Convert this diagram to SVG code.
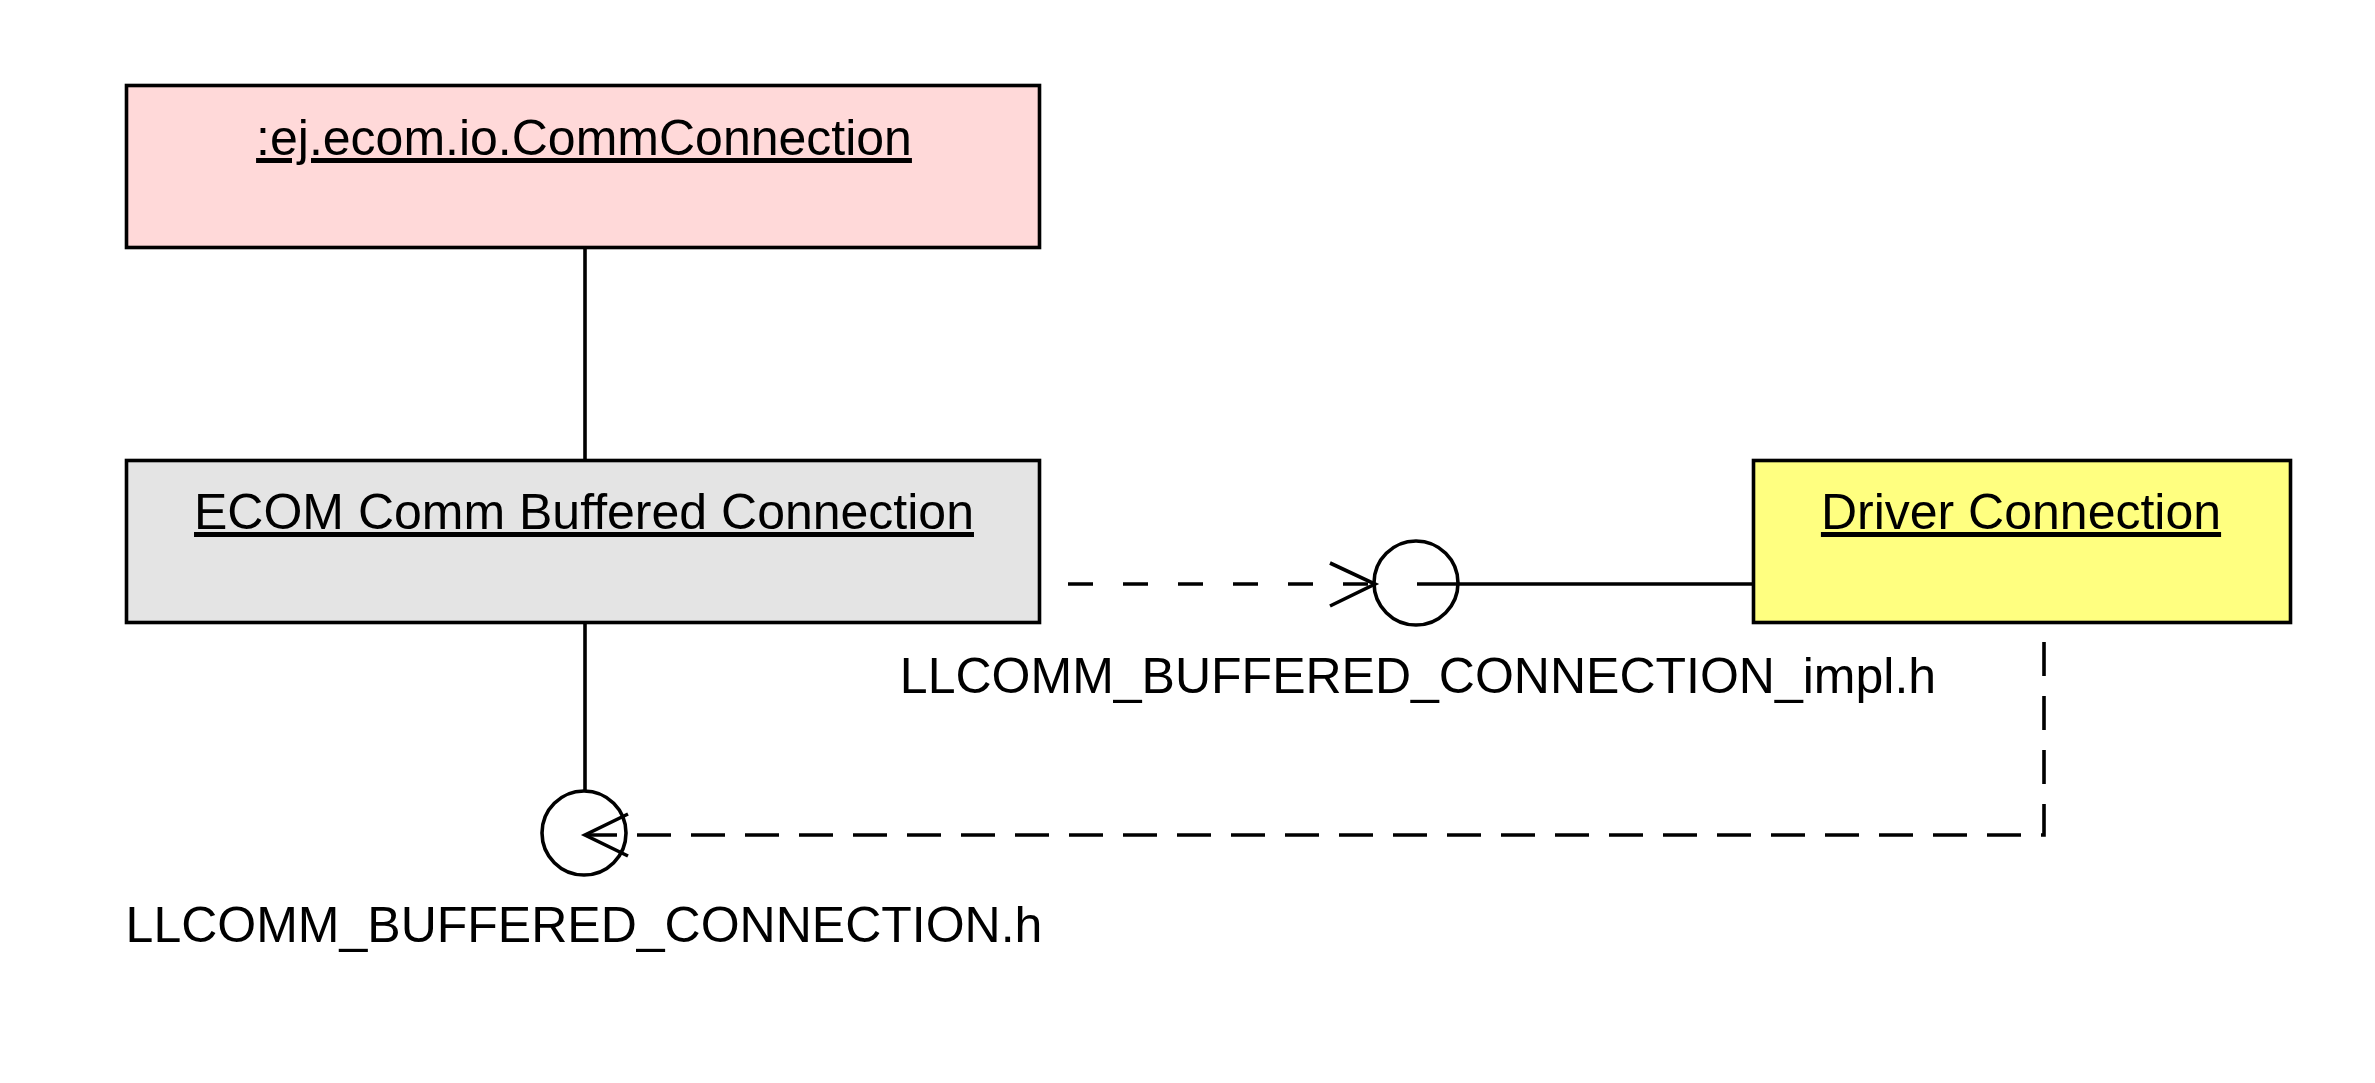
<svg xmlns="http://www.w3.org/2000/svg" width="2375" height="1083" viewBox="0 0 2375 1083">
<style>
.box{stroke:#000;stroke-width:3.6}
.t{font-family:"Liberation Sans",Arial,Helvetica,sans-serif;font-size:50px;fill:#000;text-anchor:middle}
.u{text-decoration:underline}
.ln{stroke:#000;stroke-width:3.6;fill:none}
.dash{stroke-dasharray:34 20}
.dash2{stroke-dasharray:25 30;stroke-dashoffset:27}
.ball{stroke:#000;stroke-width:3.6;fill:none}
</style>
<rect width="2375" height="1083" fill="#fff"/>
<g id="connectors">
<line class="ln" x1="585" y1="247" x2="585" y2="460"/>
<line class="ln" x1="585" y1="622" x2="585" y2="791"/>
<line class="ln" x1="1417" y1="584" x2="1754" y2="584"/>
<line class="ln dash2" x1="1040" y1="584" x2="1375" y2="584"/>
<polyline class="ln" points="1330,563 1375,584 1330,606"/>
<polyline class="ln dash" points="2044,642 2044,835 585,835"/>
<polyline class="ln" points="628,814 585,835 628,856"/>
</g>
<g id="node-commconnection">
<rect class="box" x="126.5" y="85.5" width="913" height="162" fill="#FFD9D9"/>
<text class="t u" x="584" y="155">:ej.ecom.io.CommConnection</text>
</g>
<g id="node-ecom-buffered">
<rect class="box" x="126.5" y="460.5" width="913" height="162" fill="#E4E4E4"/>
<text class="t u" x="584" y="529">ECOM Comm Buffered Connection</text>
</g>
<g id="node-driver">
<rect class="box" x="1753.5" y="460.5" width="537" height="162" fill="#FFFF80"/>
<text class="t u" x="2021" y="529">Driver Connection</text>
</g>
<g id="iface-impl">
<circle class="ball" cx="1416" cy="583" r="42"/>
<text class="t" x="1418" y="693">LLCOMM_BUFFERED_CONNECTION_impl.h</text>
</g>
<g id="iface-api">
<circle class="ball" cx="584" cy="833" r="42"/>
<text class="t" x="584" y="942">LLCOMM_BUFFERED_CONNECTION.h</text>
</g>
</svg>
